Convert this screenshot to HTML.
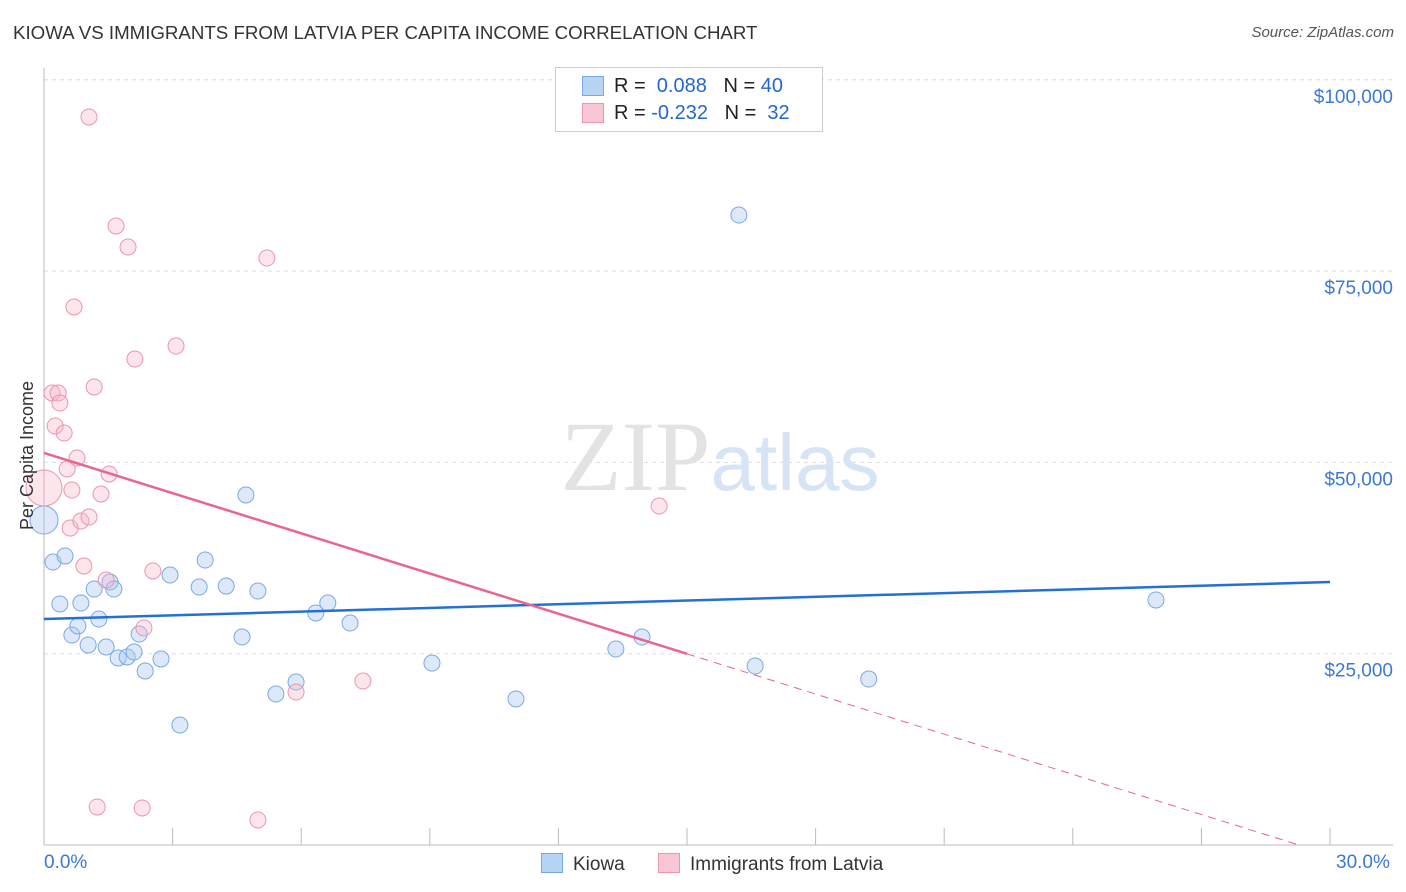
<!DOCTYPE html>
<html><head><meta charset="utf-8">
<style>
body{margin:0;background:#fff;font-family:"Liberation Sans",sans-serif;}
#wrap{position:relative;width:1406px;height:892px;overflow:hidden;}
.t{position:absolute;white-space:nowrap;}
</style></head><body>
<div id="wrap">
<div class="t" style="left:13px;top:22px;font-size:18.7px;color:#333;">KIOWA VS IMMIGRANTS FROM LATVIA PER CAPITA INCOME CORRELATION CHART</div>
<div class="t" style="right:12px;top:24px;font-size:15px;color:#555;font-style:italic;">Source: ZipAtlas.com</div>
<svg id="svg" width="1406" height="892" style="position:absolute;left:0;top:0"></svg>
<div class="t" style="left:555px;top:67px;width:266px;height:63px;border:1px solid #ccc;background:#fff;">
 <div style="position:absolute;left:26px;top:8px;width:20px;height:18px;background:#b8d4f5;border:1px solid #7aa9e6;"></div>
 <div style="position:absolute;left:58px;top:7px;font-size:20px;color:#222;">R = <span style="color:#2366d1">&nbsp;0.088</span>&nbsp;&nbsp;&nbsp;N = <span style="color:#2366d1">40</span></div>
 <div style="position:absolute;left:26px;top:35px;width:20px;height:18px;background:#f9c6d4;border:1px solid #ec95ae;"></div>
 <div style="position:absolute;left:58px;top:34px;font-size:20px;color:#222;">R = <span style="color:#2366d1">-0.232</span>&nbsp;&nbsp;&nbsp;N = <span style="color:#2366d1">&nbsp;32</span></div>
</div>
<div class="t" style="left:-47px;top:445px;font-size:18px;color:#333;transform:rotate(-90deg);">Per Capita Income</div>
<div class="t" style="left:44px;top:852px;font-size:19px;color:#3b78d8;">0.0%</div>
<div class="t" style="left:1336px;top:852px;font-size:19px;color:#3b78d8;">30.0%</div>
<div class="t" style="left:541px;top:853px;font-size:19px;color:#333;"><span style="display:inline-block;width:20px;height:18px;background:#b8d4f5;border:1px solid #7aa9e6;vertical-align:-3px;margin-right:10px"></span>Kiowa</div>
<div class="t" style="left:658px;top:853px;font-size:19px;color:#333;"><span style="display:inline-block;width:20px;height:18px;background:#f9c6d4;border:1px solid #ec95ae;vertical-align:-3px;margin-right:10px"></span>Immigrants from Latvia</div>
</div>
<script>
const yTicks=[25000,50000,75000,100000];
const yTickLabels=["$25,000","$50,000","$75,000","$100,000"];
const blueX=[0,0.21,0.37,0.49,0.65,0.79,0.86,1.03,1.17,1.28,1.45,1.54,1.63,1.73,1.94,2.10,2.22,2.36,2.73,2.94,3.17,3.62,3.76,4.25,4.62,4.71,4.99,5.41,5.88,6.34,6.62,7.14,9.05,11.01,13.34,13.95,16.21,16.59,19.24,25.94];
const blueY=[42470,36980,31500,37770,27440,28620,31620,26140,33450,29530,25870,34370,33450,24440,24570,25220,27570,22740,24310,35280,15680,33710,37240,33840,27180,45740,33190,19730,21300,30320,31620,29010,23780,19080,25610,27180,82330,23390,21690,32020];
const pinkX=[0,0.19,0.26,0.33,0.37,0.47,0.54,0.65,0.70,0.77,0.61,0.86,1.05,0.93,1.05,1.17,1.24,1.33,1.45,1.52,1.68,1.96,2.12,2.29,2.33,2.54,3.08,4.99,5.20,5.88,7.44,14.35];
const pinkY=[46650,59070,54760,59070,57760,53840,49140,46390,70310,50570,41420,42340,42860,36460,95140,59860,4970,45870,34630,48490,80900,78150,63510,4840,28360,35810,65210,3270,76710,19990,21430,44300];
const blueTrend=[29530,34370];
const pinkTrend=[51230,-1750];
const svg=document.getElementById('svg');const NS='http://www.w3.org/2000/svg';
const X=v=>44+v*42.867, Y=v=>845-v/25000*191.3;
function mk(t,a,nm){const e=document.createElementNS(NS,t);for(const k in a)e.setAttribute(k,a[k]);


svg.appendChild(e);return e;}
yTicks.forEach((v,i)=>{mk('line',{x1:44,x2:1393,y1:Y(v),y2:Y(v),stroke:'#ddd','stroke-dasharray':'4,4'},'gridline');
const t=mk('text',{x:1393,y:Y(v)+23,'text-anchor':'end','font-size':19,fill:'#3b78d8','font-family':'Liberation Sans'},'y-tick-label');t.textContent=yTickLabels[i];});
mk('line',{x1:44,x2:1393,y1:845,y2:845,stroke:'#bbb'},'x-axis');
mk('line',{x1:44,x2:44,y1:68,y2:845,stroke:'#bbb'},'y-axis');
for(let i=1;i<=10;i++)mk('line',{x1:X(i*3),x2:X(i*3),y1:828,y2:845,stroke:'#bbb'},'x-tick');
const wm=mk('text',{x:720,y:490,'text-anchor':'middle','font-size':100,fill:'#e3e3e3','font-family':'Liberation Serif'},'watermark');
wm.innerHTML='ZIP<tspan fill="#d6e4f5" font-family="Liberation Sans" font-size="80">atlas</tspan>';
blueX.forEach((x,i)=>mk('circle',{cx:X(x),cy:Y(blueY[i]),r:i==0?14:8,fill:'rgba(170,200,240,0.4)',stroke:'#7aa9e6','stroke-width':1},'kiowa-point'));
pinkX.forEach((x,i)=>mk('circle',{cx:X(x),cy:Y(pinkY[i]),r:i==0?18:8,fill:'rgba(248,180,200,0.35)',stroke:'#ec95ae','stroke-width':1},'latvia-point'));
mk('line',{x1:X(0),y1:Y(blueTrend[0]),x2:X(30),y2:Y(blueTrend[1]),stroke:'#2370d6','stroke-width':2.5},'kiowa-trend');
const pv=x=>pinkTrend[0]+pinkTrend[1]*x, xz=-pinkTrend[0]/pinkTrend[1];
mk('line',{x1:X(0),y1:Y(pv(0)),x2:X(15),y2:Y(pv(15)),stroke:'#e8658f','stroke-width':2.5},'latvia-trend');
mk('line',{x1:X(15),y1:Y(pv(15)),x2:X(xz),y2:Y(0),stroke:'#e8658f','stroke-width':1,'stroke-dasharray':'8,6'},'latvia-trend-extension');
</script>
</body></html>
